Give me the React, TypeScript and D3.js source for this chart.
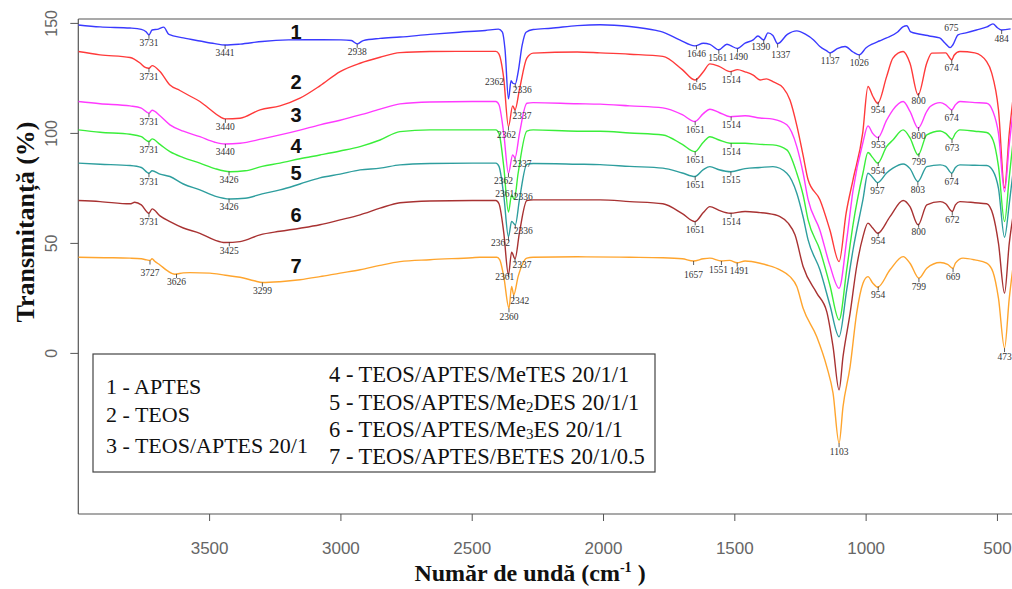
import React from 'react';
import * as d3 from 'd3';

type Pt = [number, number];
type Ann = [number, string];

const xTicks = [3500, 3000, 2500, 2000, 1500, 1000, 500];
const yTicks = [0, 50, 100, 150];

// 1 - APTES
const s1: Pt[] = [[4000,149.3],[3917,148.4],[3803,147.9],[3760,147.3],[3742,146.2],[3731,144.8],[3719,147],[3695,147.4],[3675,148.3],[3655,145],[3600,143.4],[3537,142],[3480,140.8],[3441,140.2],[3384,140.6],[3300,141.8],[3200,142.5],[3100,142.6],[3000,142.5],[2960,142.2],[2938,140.7],[2915,142.2],[2851,143.2],[2775,143.8],[2661,145],[2550,146],[2450,146.8],[2400,147.4],[2385,146],[2375,138],[2362,115.7],[2352,123.9],[2345,122.8],[2336,122.5],[2325,128],[2310,140],[2295,146],[2268,147.2],[2200,147.8],[2100,149],[2013,149.4],[1900,148.6],[1800,146.8],[1774,146],[1710,142.5],[1652,139.8],[1620,141],[1595,140.5],[1561,138],[1530,140.5],[1518,140],[1490,138.6],[1461,141],[1430,142.5],[1412,144.3],[1390,142.5],[1374,145.7],[1355,144.5],[1337,140.8],[1300,145],[1264,146.6],[1230,145],[1200,142.5],[1176,139.5],[1150,137.5],[1137,136.6],[1110,138.5],[1080,139.5],[1050,137],[1026,135.7],[1000,138.9],[975,140.7],[950,142],[922,143.4],[880,146.1],[860,148.4],[845,148.9],[830,146.1],[800,145.2],[760,144.3],[720,143.4],[700,141.1],[680,139],[670,140.2],[650,144.8],[620,145.7],[580,147],[540,148.4],[517,149.8],[500,148],[484,147],[450,147.5]];
// 2 - TEOS
const s2: Pt[] = [[4000,137.2],[3917,135.7],[3803,134.5],[3765,132],[3745,130],[3731,129.6],[3719,130.8],[3689,128.1],[3651,122],[3613,119.5],[3575,117],[3537,114.5],[3499,111],[3461,107.6],[3441,106.6],[3384,106.9],[3308,110.7],[3232,112.5],[3156,116],[3080,121.6],[3003,128.1],[2927,131.9],[2851,134.6],[2775,136.7],[2661,137.2],[2500,137.3],[2410,137.3],[2398,136],[2380,125],[2362,103.1],[2346,112.5],[2337,110.7],[2320,120],[2292,134.2],[2268,136.5],[2100,137],[2013,136.6],[1900,136],[1774,135],[1700,129],[1652,124.3],[1620,128],[1595,131.6],[1560,130.5],[1518,128.1],[1490,129],[1461,128],[1430,126.5],[1404,124.3],[1380,124.8],[1355,123.5],[1316,120.7],[1290,115.2],[1263,103.1],[1240,90],[1221,78.9],[1176,69.8],[1138,56.1],[1103,41.7],[1076,63.9],[1050,78.9],[1013,100.2],[993,121.3],[975,117],[956,113.7],[922,125.8],[898,134.2],[859,137.2],[833,131.9],[802,117.5],[769,132],[750,136.5],[697,136.6],[680,134],[674,133.4],[665,135.5],[643,137.2],[586,136.6],[541,132.6],[522,127.5],[496,110.7],[473,75.2],[455,100],[440,116.6]];
// 3 - TEOS/APTES 20/1
const s3: Pt[] = [[4000,114.5],[3917,113.5],[3803,112.5],[3760,111.5],[3731,109.2],[3719,110.5],[3689,108],[3651,103.9],[3600,101],[3537,98.5],[3480,96],[3441,95.2],[3384,95.5],[3300,97.5],[3232,99.3],[3156,101.5],[3080,103.9],[3003,106],[2927,108.4],[2851,111],[2775,113.4],[2661,114.3],[2500,114.5],[2410,114.5],[2398,113],[2380,100],[2362,81.9],[2346,90.2],[2337,88.9],[2320,100],[2292,113.7],[2268,114],[2100,113.5],[2013,113.3],[1900,112.5],[1774,111.6],[1700,108.5],[1652,105.4],[1620,109],[1595,111],[1560,109.5],[1518,107.6],[1461,108],[1404,107],[1355,106.5],[1302,103.9],[1264,94],[1240,82],[1221,70],[1176,56],[1138,40],[1103,29.6],[1074,51.6],[1050,74],[1012,96],[993,103.4],[975,100],[955,98.1],[922,106],[898,110.7],[859,114.5],[833,110],[802,102.4],[769,110],[756,112.2],[718,114],[697,113],[674,110.7],[660,113],[643,114.5],[586,114],[541,113.7],[517,110],[496,100],[473,73.5],[455,95],[440,110.7]];
// 4 - TEOS/APTES/MeTES 20/1/1
const s4: Pt[] = [[4000,101.6],[3917,100.5],[3803,99.6],[3760,98.5],[3731,96.3],[3719,97.5],[3689,95],[3651,91.7],[3600,89],[3537,86.5],[3480,84],[3422,82.6],[3365,83],[3300,85],[3232,86.5],[3156,88.5],[3080,90.2],[3003,92],[2927,94],[2851,97],[2775,100.8],[2661,101.6],[2500,101.6],[2410,101.6],[2398,100],[2380,85],[2362,64.3],[2350,72],[2340,70],[2325,82],[2292,101],[2268,101.6],[2100,101],[2013,101],[1900,100.2],[1774,99.3],[1700,95],[1652,91.7],[1620,96],[1595,98.5],[1560,97],[1518,95.5],[1461,95.5],[1404,95],[1355,94.8],[1302,92.5],[1264,81.9],[1240,72],[1221,60.7],[1176,47],[1138,31],[1103,15.2],[1074,38],[1050,58.4],[1012,82],[993,91.3],[975,89],[956,86.5],[922,94],[898,97],[859,101.6],[833,98],[802,90.2],[769,99.3],[718,101.1],[697,100],[673,97.4],[660,100],[643,101.6],[586,101],[541,100.4],[517,97],[496,85],[473,59.9],[455,80],[440,97]];
// 5 - TEOS/APTES/Me2DES 20/1/1
const s5: Pt[] = [[4000,86.5],[3917,86],[3803,85.4],[3760,84.5],[3731,81.9],[3719,83],[3689,81.5],[3651,80.4],[3600,77],[3537,74.3],[3480,71.5],[3422,70.2],[3365,70.5],[3300,72.5],[3232,74.3],[3156,77],[3080,79.8],[3003,81.5],[2927,83.4],[2851,84.2],[2775,85.7],[2661,86.3],[2500,86.5],[2410,86.5],[2398,85],[2380,72],[2362,53],[2350,60],[2336,58.4],[2320,70],[2292,86],[2268,86.3],[2100,86],[2013,85.8],[1900,85],[1774,84.2],[1700,82],[1652,80.4],[1620,83.5],[1595,84.9],[1560,83.5],[1515,82.6],[1461,84],[1404,84.5],[1355,84.9],[1302,81.9],[1264,72.8],[1240,62],[1221,51.6],[1176,38],[1138,22],[1103,7.6],[1074,28.9],[1050,47],[1012,70],[993,81.9],[975,80],[957,77.6],[922,82],[898,84.2],[859,86.1],[833,84],[803,78.1],[769,84.9],[718,85.7],[697,85],[674,81.9],[660,84.5],[643,85.7],[586,85.5],[541,85.4],[517,83],[496,75],[473,52.8],[455,68],[440,83]];
// 6 - TEOS/APTES/Me3ES 20/1/1
const s6: Pt[] = [[4000,69.5],[3917,69],[3803,68],[3785,68.7],[3760,67.5],[3731,63.7],[3719,65.7],[3689,62.5],[3651,59.9],[3600,57],[3537,54.6],[3480,51.5],[3441,50.4],[3384,50.8],[3308,53.9],[3232,55.5],[3156,56.9],[3080,58.5],[3003,60.7],[2927,63],[2851,66],[2775,68.5],[2661,69.3],[2500,69.5],[2410,69.5],[2398,68],[2380,55],[2362,35.7],[2350,46],[2337,43],[2320,55],[2292,69.5],[2268,69.8],[2100,69.8],[2013,69.8],[1900,69],[1774,68],[1700,63.5],[1652,59.9],[1620,64],[1595,66.7],[1560,65],[1518,63.7],[1461,64.5],[1404,64],[1379,63.7],[1328,62.2],[1297,59.2],[1271,53.9],[1240,39.5],[1188,27.4],[1150,19],[1126,3.1],[1103,-16.6],[1088,-1.5],[1061,18.3],[1036,39.5],[1012,53.1],[993,59.2],[975,57],[956,54.6],[909,62.2],[859,69.5],[833,66.7],[802,58.4],[769,67.5],[718,69],[697,68],[672,64.5],[660,67.5],[643,69],[586,68.5],[541,68],[517,63],[496,50],[473,27.4],[455,50],[440,63]];
// 7 - TEOS/APTES/BETES 20/1/0.5
const s7: Pt[] = [[4000,43.7],[3900,43.5],[3803,43.3],[3760,43],[3740,42.5],[3727,42.2],[3719,43],[3710,42],[3689,40.2],[3660,37.5],[3632,36],[3600,36.6],[3575,36.7],[3499,36.5],[3440,35.5],[3384,34.6],[3330,33],[3299,32.2],[3232,32.6],[3156,33.5],[3080,34.9],[3003,36.5],[2927,38],[2851,40],[2775,41.7],[2661,42.6],[2500,43.5],[2471,43.7],[2406,43.7],[2395,42.5],[2380,35],[2360,20.5],[2350,30.4],[2342,26.6],[2325,35],[2292,43.3],[2268,43.7],[2100,43.9],[1900,43.7],[1774,43.5],[1700,43],[1657,42],[1620,43],[1595,43.3],[1551,42],[1520,42.3],[1491,41.2],[1461,42],[1404,41],[1379,40.2],[1328,38],[1290,34.9],[1264,30.4],[1240,20.5],[1188,7.6],[1150,-6],[1126,-18.1],[1103,-40.8],[1088,-24.2],[1061,-6],[1036,18.3],[1012,31.9],[993,34.9],[975,32],[956,30.1],[909,38],[859,44],[833,41],[799,34.2],[769,38.7],[718,41.3],[690,40.5],[669,38.7],[660,41],[631,43.3],[586,42.5],[541,41],[517,37],[496,25],[473,2.4],[455,25],[440,40]];

const ann1: Ann[] = [[3731,'3731'],[3441,'3441'],[2938,'2938'],[2362,'2362'],[2336,'2336'],[1646,'1646'],[1561,'1561'],[1490,'1490'],[1390,'1390'],[1337,'1337'],[1137,'1137'],[1026,'1026'],[675,'675'],[484,'484']];
const ann2: Ann[] = [[3731,'3731'],[3440,'3440'],[2362,'2362'],[2337,'2337'],[1645,'1645'],[1514,'1514'],[954,'954'],[800,'800'],[674,'674']];
const ann3: Ann[] = [[3731,'3731'],[3440,'3440'],[2362,'2362'],[2337,'2337'],[1651,'1651'],[1514,'1514'],[953,'953'],[800,'800'],[674,'674']];
const ann4: Ann[] = [[3731,'3731'],[3426,'3426'],[2361,'2361'],[2336,'2336'],[1651,'1651'],[1514,'1514'],[954,'954'],[799,'799'],[673,'673']];
const ann5: Ann[] = [[3731,'3731'],[3426,'3426'],[2362,'2362'],[2336,'2336'],[1651,'1651'],[1515,'1515'],[957,'957'],[803,'803'],[674,'674']];
const ann6: Ann[] = [[3731,'3731'],[3425,'3425'],[2361,'2361'],[2337,'2337'],[1651,'1651'],[1514,'1514'],[954,'954'],[800,'800'],[672,'672']];
const ann7: Ann[] = [[3727,'3727'],[3626,'3626'],[3299,'3299'],[2360,'2360'],[2342,'2342'],[1657,'1657'],[1551,'1551'],[1491,'1491'],[1103,'1103'],[954,'954'],[799,'799'],[669,'669'],[473,'473']];

const seriesData = [s1, s2, s3, s4, s5, s6, s7];
const seriesAnn = [ann1, ann2, ann3, ann4, ann5, ann6, ann7];
const seriesNumbers = ['1', '2', '3', '4', '5', '6', '7'];
const seriesColors = ['#3a3aff', '#ff3a3a', '#ff3aff', '#3aee3a', '#2e9e9e', '#a83232', '#ffa52e'];

// legend entries: [prefix, subscript, suffix]
const legendLeft: [string, string, string][] = [['1 - APTES', '', ''], ['2 - TEOS', '', ''], ['3 - TEOS/APTES 20/1', '', '']];
const legendRight: [string, string, string][] = [['4 - TEOS/APTES/MeTES 20/1/1', '', ''], ['5 - TEOS/APTES/Me', '2', 'DES 20/1/1'], ['6 - TEOS/APTES/Me', '3', 'ES  20/1/1'], ['7 - TEOS/APTES/BETES 20/1/0.5', '', '']];

// pixel nudges for crowded annotations (layout only)
const labelNudge: Record<string, [number, number]> = {
  '0-2362': [-14, -25], '0-2336': [7, -2], '0-675': [0, -27],
  '0-1390': [-3, -1], '0-1337': [3, 3], '0-1561': [-1, 0], '0-1490': [1, 0],
  '1-2362': [-2, 0], '1-2337': [7, -2],
  '2-2362': [-5, -1], '2-2337': [7, -2],
  '3-2361': [-4, -25], '3-2336': [8, -4],
  '4-2362': [-8, -2], '4-2336': [8, -2],
  '5-2361': [-4, -4], '5-2337': [7, -2],
  '6-2360': [0, 0], '6-2342': [6, -2], '6-3727': [0, 4], '6-1657': [0, 5], '6-1551': [-3, 0], '6-1491': [2, 0],
};
const numberNudge = [6, -4, -2, 0, 2, 0, 0];

const W = 1012, H = 589;
const x = d3.scaleLinear().domain([4000, 400]).range([78.3, 1023.7]);
const y = d3.scaleLinear().domain([-73, 152]).range([514, 19]);

function valueAt(data: Pt[], w: number): number {
  for (let i = 0; i < data.length - 1; i++) {
    const a = data[i], b = data[i + 1];
    if (w <= a[0] && w >= b[0]) {
      const t = (a[0] - w) / (a[0] - b[0] || 1);
      return a[1] + (b[1] - a[1]) * t;
    }
  }
  return data[data.length - 1][1];
}

export default function App() {
  const line = d3.line<Pt>().x(d => x(d[0])).y(d => y(d[1])).curve(d3.curveMonotoneX);
  const left = 78.3, top = 19, bottom = 514;
  const serif = "'Liberation Serif', 'Times New Roman', serif";
  const sans = "'Liberation Sans', Arial, sans-serif";
  return (
    <svg width={W} height={H} style={{ position: 'absolute', left: 0, top: 0, background: '#fff' }}>
      <defs>
        <clipPath id="plotClip"><rect x={left} y={top} width={W - left} height={bottom - top} /></clipPath>
      </defs>
      <rect x={0} y={0} width={W} height={H} fill="#fff" />
      {/* frame */}
      <line x1={left} x2={W} y1={top} y2={top} stroke="#555" strokeWidth={1.2} />
      <line x1={left} x2={W} y1={bottom} y2={bottom} stroke="#555" strokeWidth={1.2} />
      <line x1={left} x2={left} y1={top} y2={bottom} stroke="#555" strokeWidth={1.2} />
      {/* y axis */}
      {yTicks.map(t => (
        <g key={'y' + t}>
          <line x1={left - 8} x2={left} y1={y(t)} y2={y(t)} stroke="#555" strokeWidth={1} />
          <text transform={`translate(57,${y(t)}) rotate(-90)`} textAnchor="middle" fontFamily={sans} fontSize={16} fill="#666">{t}</text>
        </g>
      ))}
      {/* x axis */}
      {xTicks.map(t => (
        <g key={'x' + t}>
          <line x1={x(t)} x2={x(t)} y1={bottom} y2={bottom + 7} stroke="#555" strokeWidth={1} />
          <text x={x(t)} y={554} textAnchor="middle" fontFamily={sans} fontSize={17} fill="#666">{t}</text>
        </g>
      ))}
      {/* curves */}
      <g clipPath="url(#plotClip)">
        {seriesData.map((d, i) => (
          <path key={'s' + i} d={line(d) || ''} fill="none" stroke={seriesColors[i]} strokeWidth={1.4} />
        ))}
      </g>
      {/* annotations */}
      {seriesAnn.map((ann, si) => ann.map(([w, lab]) => {
        const yc = y(valueAt(seriesData[si], w));
        const nud = labelNudge[si + '-' + lab] || [0, 0];
        const xc = x(w);
        return (
          <g key={`a${si}-${lab}`}>
            {nud[1] > -6 && <line x1={xc} x2={xc} y1={yc} y2={yc + 4} stroke="#333" strokeWidth={0.8} />}
            <text x={xc + nud[0]} y={yc + 8 + nud[1] + 3.5} textAnchor="middle" fontFamily={serif} fontSize={9.5} fill="#333">{lab}</text>
          </g>
        );
      }))}
      {/* series numbers */}
      {seriesData.map((d, i) => (
        <text key={'n' + i} x={296} y={y(valueAt(d, 3170)) - 14 + numberNudge[i] + 7} textAnchor="middle" fontFamily={sans} fontWeight="bold" fontSize={20} fill="#111">{seriesNumbers[i]}</text>
      ))}
      {/* legend */}
      <rect x={93} y={354} width={562} height={118} fill="#fff" stroke="#444" strokeWidth={1.2} />
      {legendLeft.map((l, i) => (
        <text key={'ll' + i} x={106} y={[387, 415, 445.5][i] + 7} fontFamily={serif} fontSize={22} fill="#111">{l[0]}</text>
      ))}
      {legendRight.map((l, i) => (
        <text key={'lr' + i} x={329} y={[375, 403, 430, 457][i] + 7} fontFamily={serif} fontSize={22.5} fill="#111">
          {l[0]}
          {l[1] && <tspan fontSize={15} dy={2}>{l[1]}</tspan>}
          {l[2] && <tspan dy={l[1] ? -2 : 0}>{l[2]}</tspan>}
        </text>
      ))}
      {/* titles */}
      <text transform="translate(34,222) rotate(-90)" textAnchor="middle" fontFamily={serif} fontWeight="bold" fontSize={26} fill="#111">Transmitanță (%)</text>
      <text x={530} y={581} textAnchor="middle" fontFamily={serif} fontWeight="bold" fontSize={24} fill="#111">
        Număr de undă (cm<tspan fontSize={14} dy={-9}>-1</tspan><tspan dy={9}> )</tspan>
      </text>
    </svg>
  );
}
